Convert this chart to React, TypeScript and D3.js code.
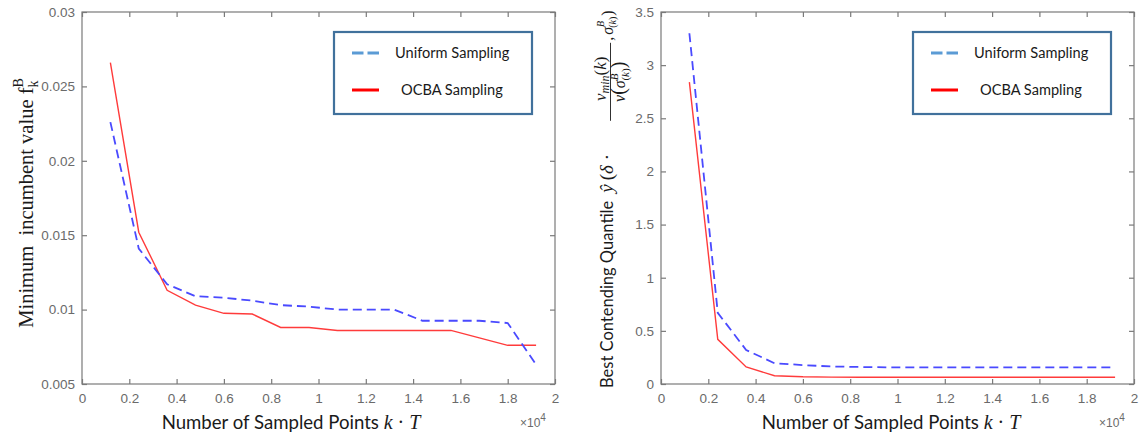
import React, { useEffect, useRef } from 'react';
import * as d3 from 'd3';

// sample counts, in units of 10^4
const samplePoints = [0.12, 0.24, 0.36, 0.48, 0.6, 0.72, 0.84, 0.96, 1.08, 1.2, 1.32, 1.44, 1.56, 1.68, 1.8, 1.92];

// left panel: minimum incumbent value
const incumbentUniform = [0.0226, 0.0141, 0.0117, 0.0109, 0.0108, 0.0106, 0.0103, 0.0102, 0.01, 0.01, 0.01, 0.00925, 0.00925, 0.00925, 0.0091, 0.0063];
const incumbentOcba = [0.0266, 0.0152, 0.0113, 0.0103, 0.00975, 0.0097, 0.0088, 0.0088, 0.0086, 0.0086, 0.0086, 0.0086, 0.0086, 0.0081, 0.0076, 0.0076];

// right panel: best contending quantile
const quantileUniform = [3.3, 0.67, 0.32, 0.195, 0.178, 0.165, 0.16, 0.157, 0.157, 0.157, 0.157, 0.157, 0.157, 0.157, 0.157, 0.157];
const quantileOcba = [2.84, 0.42, 0.16, 0.078, 0.068, 0.065, 0.064, 0.063, 0.063, 0.063, 0.063, 0.063, 0.063, 0.063, 0.063, 0.063];

const xTicks = [0, 0.2, 0.4, 0.6, 0.8, 1, 1.2, 1.4, 1.6, 1.8, 2];
const xTickLabels = ['0', '0.2', '0.4', '0.6', '0.8', '1', '1.2', '1.4', '1.6', '1.8', '2'];
const leftYTicks = [0.005, 0.01, 0.015, 0.02, 0.025, 0.03];
const leftYTickLabels = ['0.005', '0.01', '0.015', '0.02', '0.025', '0.03'];
const rightYTicks = [0, 0.5, 1, 1.5, 2, 2.5, 3, 3.5];
const rightYTickLabels = ['0', '0.5', '1', '1.5', '2', '2.5', '3', '3.5'];
const seriesNames = ['Uniform Sampling', 'OCBA Sampling'];

const AXIS_GREY = '#7a7a7a';
const TICK_TEXT = '#6a6a6a';
const UNIFORM_COLOR = '#4a4aff';
const OCBA_COLOR = '#ff3b3b';
const SANS = 'Lato, "Open Sans", sans-serif';
const MATH = '"Liberation Serif", "DejaVu Serif", serif';

function drawPanel(svg, cfg) {
  const { left, top, width, height, yDomain, yTicks, yLabels, uniform, ocba } = cfg;

  const x = d3.scaleLinear().domain([0, 2]).range([0, width]);
  const y = d3.scaleLinear().domain(yDomain).range([height, 0]);

  const g = svg.append('g').attr('transform', `translate(${left},${top})`);

  // box
  g.append('rect')
    .attr('width', width)
    .attr('height', height)
    .attr('fill', 'none')
    .attr('stroke', AXIS_GREY)
    .attr('stroke-width', 1.2);

  // axes with inward ticks (MATLAB style)
  const fmtX = (d, i) => xTickLabels[i];
  const fmtY = (d, i) => yLabels[i];

  g.append('g')
    .attr('transform', `translate(0,${height})`)
    .call(d3.axisBottom(x).tickValues(xTicks).tickFormat(fmtX).tickSize(-5).tickPadding(9));
  g.append('g')
    .call(d3.axisTop(x).tickValues(xTicks).tickFormat(() => '').tickSize(-5));
  g.append('g')
    .call(d3.axisLeft(y).tickValues(yTicks).tickFormat(fmtY).tickSize(-5).tickPadding(7));
  g.append('g')
    .attr('transform', `translate(${width},0)`)
    .call(d3.axisRight(y).tickValues(yTicks).tickFormat(() => '').tickSize(-5));

  g.selectAll('.domain').remove();
  g.selectAll('.tick line').attr('stroke', AXIS_GREY).attr('stroke-width', 1.2);
  g.selectAll('.tick text')
    .attr('fill', TICK_TEXT)
    .style('font-family', '"Liberation Sans", Arial, sans-serif')
    .style('font-size', '13.5px');

  // lines
  const line = d3.line()
    .x((d, i) => x(samplePoints[i]))
    .y(d => y(d));

  g.append('path')
    .datum(ocba)
    .attr('d', line)
    .attr('fill', 'none')
    .attr('stroke', OCBA_COLOR)
    .attr('stroke-width', 1.4);

  g.append('path')
    .datum(uniform)
    .attr('d', line)
    .attr('fill', 'none')
    .attr('stroke', UNIFORM_COLOR)
    .attr('stroke-width', 1.8)
    .attr('stroke-dasharray', '9,5');

  // legend
  const lg = g.append('g').attr('transform', `translate(${width - 221},20)`);
  lg.append('rect')
    .attr('width', 198)
    .attr('height', 82)
    .attr('fill', '#fff')
    .attr('stroke', '#41719c')
    .attr('stroke-width', 2.2);

  lg.append('line')
    .attr('x1', 18).attr('x2', 45)
    .attr('y1', 21).attr('y2', 21)
    .attr('stroke', '#5b9bd5')
    .attr('stroke-width', 3)
    .attr('stroke-dasharray', '11.5,4');
  lg.append('text')
    .attr('x', 61).attr('y', 26)
    .style('font-family', SANS)
    .style('font-size', '14.6px')
    .attr('fill', '#1a1a1a')
    .text(seriesNames[0]);

  lg.append('line')
    .attr('x1', 18).attr('x2', 45)
    .attr('y1', 58).attr('y2', 58)
    .attr('stroke', '#ff0000')
    .attr('stroke-width', 3);
  lg.append('text')
    .attr('x', 67).attr('y', 63)
    .style('font-family', SANS)
    .style('font-size', '14.6px')
    .attr('fill', '#1a1a1a')
    .text(seriesNames[1]);

  // x label
  const xl = svg.append('text')
    .attr('x', cfg.xLabelX)
    .attr('y', 429)
    .attr('text-anchor', 'middle')
    .style('font-family', SANS)
    .style('font-size', '18.6px')
    .attr('fill', '#1a1a1a');
  xl.append('tspan').text('Number of Sampled Points ');
  xl.append('tspan').style('font-family', MATH).style('font-style', 'italic').style('font-size', '20px').text('k');
  xl.append('tspan').style('font-family', MATH).style('font-size', '20px').text(' · ');
  xl.append('tspan').style('font-family', MATH).style('font-style', 'italic').style('font-size', '20px').text('T');

  // exponent
  const ex = svg.append('text')
    .attr('x', left + width - 35)
    .attr('y', 427)
    .attr('fill', TICK_TEXT)
    .style('font-family', '"Liberation Sans", Arial, sans-serif')
    .style('font-size', '12px');
  ex.append('tspan').text('×10');
  ex.append('tspan').attr('dy', -6).style('font-size', '10px').text('4');
}

const App = () => {
  const svgRef = useRef();

  useEffect(() => {
    if (!svgRef.current) return;
    const svg = d3.select(svgRef.current);
    svg.selectAll('*').remove();

    drawPanel(svg, {
      left: 82, top: 12, width: 473, height: 372,
      yDomain: [0.005, 0.03], yTicks: leftYTicks, yLabels: leftYTickLabels,
      uniform: incumbentUniform, ocba: incumbentOcba, xLabelX: 291,
    });
    drawPanel(svg, {
      left: 661, top: 12, width: 473, height: 372,
      yDomain: [0, 3.5], yTicks: rightYTicks, yLabels: rightYTickLabels,
      uniform: quantileUniform, ocba: quantileOcba, xLabelX: 891,
    });

    // left y label
    const ly = svg.append('text')
      .attr('transform', 'translate(33,203) rotate(-90)')
      .attr('text-anchor', 'middle')
      .style('font-family', MATH)
      .style('font-size', '20.5px')
      .style('white-space', 'pre')
      .attr('fill', '#1a1a1a');
    ly.append('tspan').text('Minimum  incumbent value f');
    ly.append('tspan').attr('dy', 5).style('font-size', '14px').text('k');
    ly.append('tspan').attr('dx', -7).attr('dy', -15).style('font-size', '14px').text('B');

    // right y label
    const ry = svg.append('g').attr('transform', 'translate(613,388) rotate(-90)');
    const main = ry.append('text')
      .attr('x', 0).attr('y', 0)
      .style('font-family', SANS)
      .style('font-size', '16.5px')
      .attr('fill', '#1a1a1a')
      .text('Best Contending Quantile');
    const mainLen = main.node().getComputedTextLength();
    const b = Math.min(mainLen + 8, 198); // start of math part

    const m1 = ry.append('text')
      .attr('x', b).attr('y', 0)
      .style('font-family', MATH)
      .style('font-size', '19px')
      .style('white-space', 'pre')
      .attr('fill', '#1a1a1a');
    m1.append('tspan').style('font-style', 'italic').text('ŷ');
    m1.append('tspan').attr('dx', 4).text('(');
    m1.append('tspan').style('font-style', 'italic').text('δ');
    m1.append('tspan').attr('dx', 5).text('·');

    // fraction
    ry.append('line')
      .attr('x1', b + 72).attr('x2', b + 150)
      .attr('y1', -2.5).attr('y2', -2.5)
      .attr('stroke', '#1a1a1a')
      .attr('stroke-width', 0.9);

    const num = ry.append('text')
      .attr('x', b + 114).attr('y', -7)
      .attr('text-anchor', 'middle')
      .style('font-family', MATH)
      .style('font-size', '17px')
      .attr('fill', '#1a1a1a');
    num.append('tspan').style('font-style', 'italic').text('v');
    num.append('tspan').attr('dy', 3).style('font-style', 'italic').style('font-size', '12px').text('min');
    num.append('tspan').attr('dy', -3).text('(');
    num.append('tspan').style('font-style', 'italic').text('k');
    num.append('tspan').text(')');

    const den = ry.append('text')
      .attr('x', b + 111).attr('y', 12)
      .attr('text-anchor', 'middle')
      .style('font-family', MATH)
      .style('font-size', '16px')
      .attr('fill', '#1a1a1a');
    den.append('tspan').style('font-style', 'italic').text('v');
    den.append('tspan').style('font-size', '20px').text('(');
    den.append('tspan').style('font-style', 'italic').text('σ');
    den.append('tspan').attr('dy', -7).style('font-style', 'italic').style('font-size', '11px').text('B');
    den.append('tspan').attr('dx', -7).attr('dy', 11).style('font-size', '11px').text('(');
    den.append('tspan').style('font-style', 'italic').style('font-size', '11px').text('k');
    den.append('tspan').style('font-size', '11px').text(')');
    den.append('tspan').attr('dy', -4).style('font-size', '20px').text(')');

    const tail = ry.append('text')
      .attr('x', b + 152).attr('y', 0)
      .style('font-family', MATH)
      .style('font-size', '16px')
      .attr('fill', '#1a1a1a');
    tail.append('tspan').text(',');
    tail.append('tspan').attr('dx', 2).style('font-style', 'italic').text('σ');
    tail.append('tspan').attr('dy', -9).style('font-style', 'italic').style('font-size', '10px').text('B');
    tail.append('tspan').attr('dx', -7).attr('dy', 12).style('font-size', '10px').text('(');
    tail.append('tspan').style('font-style', 'italic').style('font-size', '10px').text('k');
    tail.append('tspan').style('font-size', '10px').text(')');
    tail.append('tspan').attr('dy', -3).attr('dx', 1).text(')');
  }, []);

  return (
    <div style={{ position: 'absolute', left: 0, top: 0, width: 1140, height: 437, background: '#fff' }}>
      <svg
        ref={svgRef}
        width={1140}
        height={437}
        style={{ display: 'block', overflow: 'hidden' }}
      />
    </div>
  );
};

export default App;
